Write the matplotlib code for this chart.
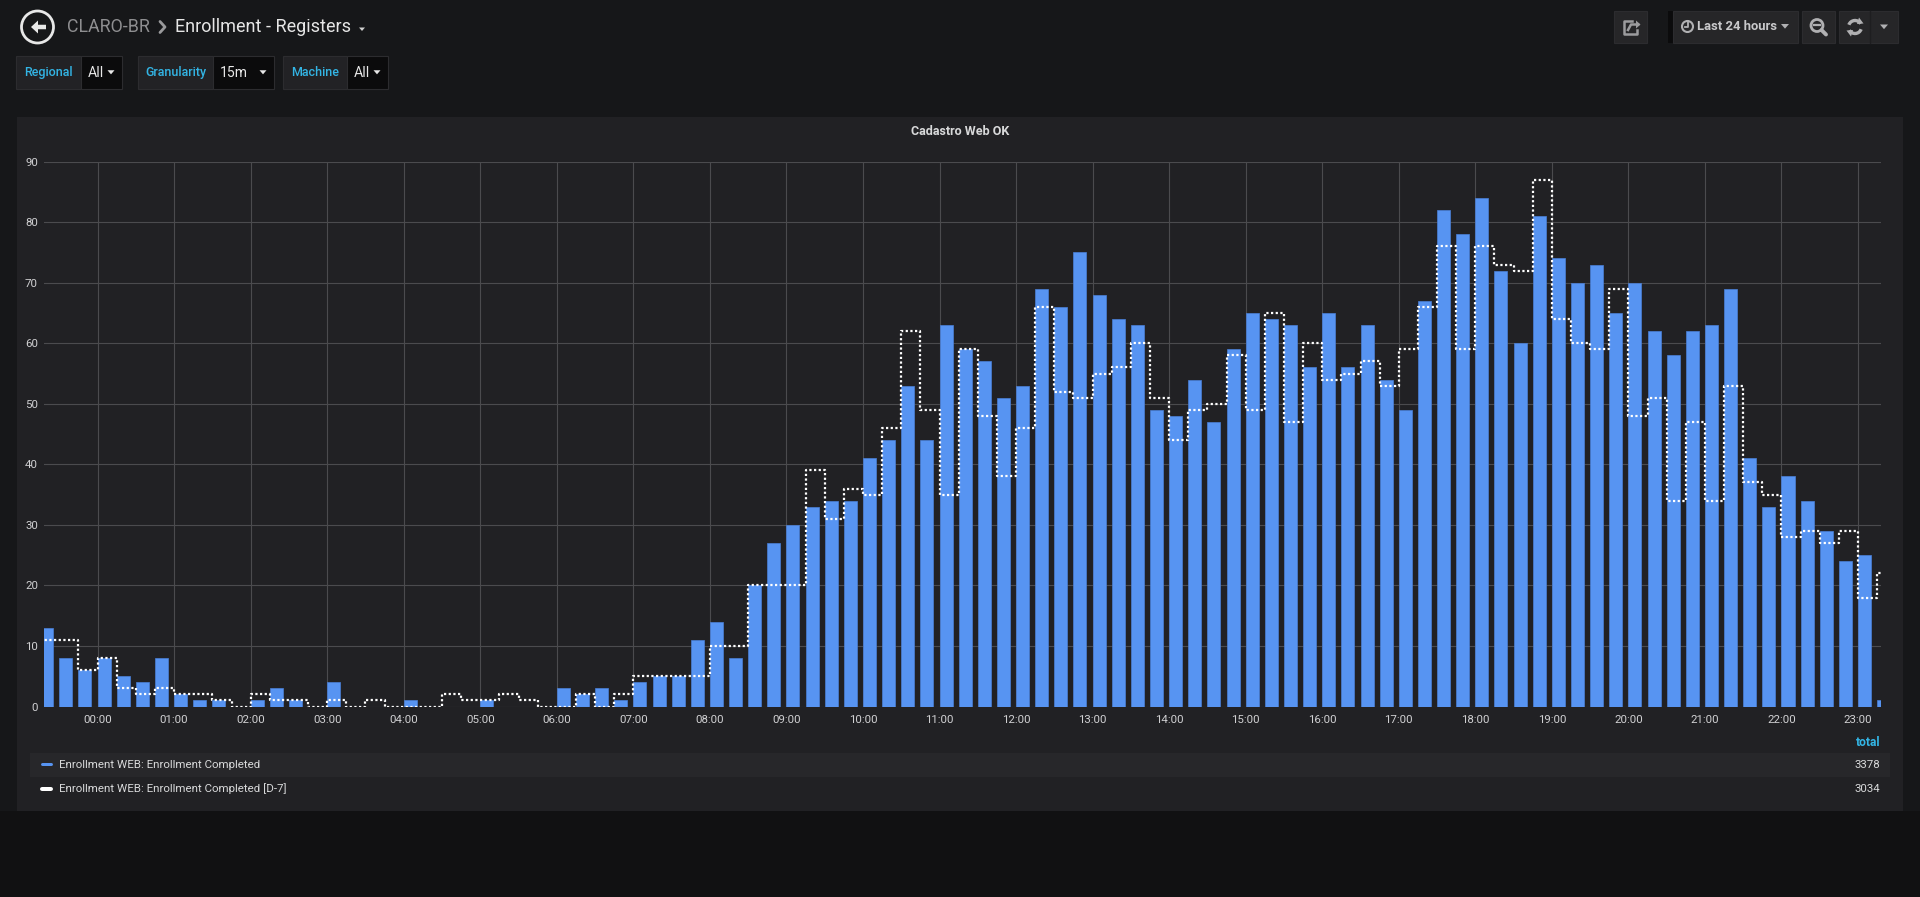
import numpy as np
import pandas as pd
import matplotlib
matplotlib.use('Agg')
import matplotlib.pyplot as plt
import matplotlib.dates as mdates
from matplotlib.patches import Rectangle, Circle, Polygon, FancyArrow, Arc

plt.rcParams['font.family'] = ['Roboto', 'DejaVu Sans']

# 15m buckets, first bucket starts 23:15 of the day before
first_slot = '2018-05-14 23:15'
view_start = '2018-05-14 23:18'
view_end = '2018-05-15 23:18'

completed = [13, 8, 6,
             8, 5, 4, 8,
             2, 1, 1, 0,
             1, 3, 1, 0,
             4, 0, 0, 0,
             1, 0, 0, 0,
             1, 0, 0, 0,
             3, 2, 3, 1,
             4, 5, 5, 11,
             14, 8, 20, 27,
             30, 33, 34, 34,
             41, 44, 53, 44,
             63, 59, 57, 51,
             53, 69, 66, 75,
             68, 64, 63, 49,
             48, 54, 47, 59,
             65, 64, 63, 56,
             65, 56, 63, 54,
             49, 67, 82, 78,
             84, 72, 60, 81,
             74, 70, 73, 65,
             70, 62, 58, 62,
             63, 69, 41, 33,
             38, 34, 29, 24,
             25, 1]

completed_d7 = [11, 11, 6,
                8, 3, 2, 3,
                2, 2, 1, 0,
                2, 1, 1, 0,
                1, 0, 1, 0,
                0, 0, 2, 1,
                1, 2, 1, 0,
                0, 2, 0, 2,
                5, 5, 5, 5,
                10, 10, 20, 20,
                20, 39, 31, 36,
                35, 46, 62, 49,
                35, 59, 48, 38,
                46, 66, 52, 51,
                55, 56, 60, 51,
                44, 49, 50, 58,
                49, 65, 47, 60,
                54, 55, 57, 53,
                59, 66, 76, 59,
                76, 73, 72, 87,
                64, 60, 59, 69,
                48, 51, 34, 47,
                34, 53, 37, 35,
                28, 29, 27, 29,
                18, 22]

series_names = ['Enrollment WEB: Enrollment Completed',
                'Enrollment WEB: Enrollment Completed [D-7]']
y_ticks = [0, 10, 20, 30, 40, 50, 60, 70, 80, 90]

variables = [('Regional', 'All'), ('Granularity', '15m'), ('Machine', 'All')]

BG = '#161719'
PANEL = '#212124'
TEXT = '#d8d9da'
BLUE = '#5794f2'
CYAN = '#33b5e5'

W, H = 1920, 897
fig = plt.figure(figsize=(W / 100, H / 100), dpi=100, facecolor=BG)

# pixel-space layer for the dashboard chrome
deco = fig.add_axes([0, 0, 1, 1], zorder=0)
deco.set_xlim(0, W)
deco.set_ylim(H, 0)
deco.axis('off')


def px(v):
    return v * 0.72


def caret(x, y, w, color):
    deco.add_patch(Polygon([(x - w / 2, y - w / 4), (x + w / 2, y - w / 4), (x, y + w / 3)],
                           closed=True, color=color, lw=0))


def button(x0, x1, y0=11, y1=43, color='#262628'):
    deco.add_patch(Rectangle((x0, y0), x1 - x0, y1 - y0, facecolor=color,
                             edgecolor='#2c2c2f', lw=0.8))


deco.add_patch(Rectangle((0, 811), W, H - 811, facecolor='#111112', lw=0))

# back button + breadcrumb
deco.add_patch(Circle((37.5, 27), 16, facecolor='none', edgecolor='#e8e8e8', lw=2))
deco.add_patch(FancyArrow(46, 27, -15, 0, width=4.5, head_width=13, head_length=7,
                          length_includes_head=True, color='#e8e8e8', lw=0))
deco.text(67, 27, 'CLARO-BR', color='#8e8e90', fontsize=px(17.8), va='center', ha='left')
deco.plot([160, 165, 160], [21.5, 27, 32.5], color='#9a9a9c', lw=2, solid_capstyle='round')
deco.text(175, 27, 'Enrollment - Registers', color='#e6e6e6', fontsize=px(18),
          va='center', ha='left')
caret(362, 29, 6, '#d0d0d0')

# template variables
var_boxes = [(16, 81, 122), (138, 213, 274), (283, 347, 388)]
for (label, value), (x0, xm, x1) in zip(variables, var_boxes):
    deco.add_patch(Rectangle((x0, 56), xm - x0, 33, facecolor='#222225',
                             edgecolor='#2c2c2f', lw=0.8))
    deco.add_patch(Rectangle((xm, 56), x1 - xm, 33, facecolor='#0b0b0c',
                             edgecolor='#2c2c2f', lw=0.8))
    deco.text((x0 + xm) / 2, 72.5, label, color=CYAN, fontsize=px(12.5),
              fontweight='medium', ha='center', va='center')
    deco.text(xm + 7, 73, value, color='#e8e8e8', fontsize=px(14), ha='left', va='center')
    caret(x1 - 11, 72, 7, '#e8e8e8')

# top right buttons
button(1614, 1647)
deco.plot([1632, 1624, 1624, 1637, 1637], [21, 21, 34, 34, 30], color='#9c9c9e', lw=1.8)
deco.plot([1628, 1631, 1638], [30, 24.5, 24.5], color='#9c9c9e', lw=1.8)
deco.add_patch(Polygon([(1636, 20.5), (1640.5, 24.5), (1636, 28.5)], closed=True,
                       color='#9c9c9e', lw=0))
deco.add_patch(Rectangle((1668, 11), 6, 32, facecolor='#0b0b0c', lw=0))
button(1673, 1798)
deco.add_patch(Circle((1687.5, 26.5), 5.5, facecolor='none', edgecolor='#b0b0b2', lw=1.5))
deco.plot([1687.5, 1687.5, 1685], [22.5, 27, 27], color='#b0b0b2', lw=1.3)
deco.text(1697, 27, 'Last 24 hours', color='#c8c8ca', fontsize=px(13),
          fontweight='bold', ha='left', va='center')
caret(1785, 26, 8, '#b0b0b2')
button(1802, 1835)
deco.add_patch(Circle((1817, 25.5), 6, facecolor='none', edgecolor='#b0b0b2', lw=2))
deco.plot([1821.5, 1826], [30, 34.5], color='#b0b0b2', lw=2.8, solid_capstyle='round')
deco.plot([1814, 1820], [25.5, 25.5], color='#b0b0b2', lw=1.6)
button(1839, 1898)
deco.plot([1870, 1870], [11, 43], color='#1e1e20', lw=1)
deco.add_patch(Arc((1855, 27), 13, 13, theta1=200, theta2=330, color='#b0b0b2', lw=2.4))
deco.add_patch(Arc((1855, 27), 13, 13, theta1=20, theta2=150, color='#b0b0b2', lw=2.4))
deco.add_patch(Polygon([(1859, 17.5), (1863.5, 23.5), (1857, 24)], closed=True, color='#b0b0b2', lw=0))
deco.add_patch(Polygon([(1851, 36.5), (1846.5, 30.5), (1853, 30)], closed=True, color='#b0b0b2', lw=0))
caret(1884, 26.5, 8, '#b0b0b2')

# panel
deco.add_patch(Rectangle((17, 117), 1903 - 17, 811 - 117, facecolor=PANEL, lw=0))
deco.text(960, 131.5, 'Cadastro Web OK', color=TEXT, fontsize=px(12.5),
          fontweight='bold', ha='center', va='center')

# legend table
deco.text(1880, 742, 'total', color=CYAN, fontsize=px(12), fontweight='bold',
          ha='right', va='center')
deco.add_patch(Rectangle((30, 753), 1890 - 30, 24, facecolor='#27272a', lw=0))
legend_colors = [BLUE, '#ffffff']
legend_widths = [3, 4]
totals = [sum(completed), sum(completed_d7)]
for i, (name, col, lw, tot) in enumerate(zip(series_names, legend_colors, legend_widths, totals)):
    yy = 764.5 + i * 24.5
    deco.plot([42, 51], [yy, yy], color=col, lw=px(lw), solid_capstyle='round')
    deco.text(59, yy, name, color=TEXT, fontsize=px(11.5), ha='left', va='center')
    deco.text(1880, yy, str(tot), color=TEXT, fontsize=px(11.5), ha='right', va='center')

# chart
x0, x1, ytop, ybot = 44, 1881, 161.6, 706.5
ax = fig.add_axes([x0 / W, 1 - ybot / H, (x1 - x0) / W, (ybot - ytop) / H], zorder=1)
ax.set_facecolor('none')

times = pd.date_range(first_slot, periods=len(completed), freq='15min')
slot = 15 / 1440
ax.bar(times, completed, width=slot * 0.68, align='edge', color=BLUE,
       edgecolor='#4a80d8', linewidth=0.5, zorder=2)
step_x = list(times) + [times[-1] + pd.Timedelta(minutes=15)]
step_y = completed_d7 + [completed_d7[-1]]
ax.step(step_x, step_y, where='post', color='#ffffff', lw=1.6,
        linestyle=(0, (1, 1.1)), zorder=3)

ax.set_xlim(pd.Timestamp(view_start), pd.Timestamp(view_end))
ax.set_ylim(0, 90)
ax.set_yticks(y_ticks)
ax.xaxis.set_major_locator(mdates.HourLocator())
ax.xaxis.set_major_formatter(mdates.DateFormatter('%H:%M'))
ax.grid(True, color='#4b4b4e', lw=0.8, zorder=0)
ax.set_axisbelow(True)
for s in ax.spines.values():
    s.set_visible(False)
ax.tick_params(length=0, colors='#d0d0d2', labelsize=px(11.5))
ax.tick_params(axis='x', pad=px(8))
ax.tick_params(axis='y', pad=px(6))

fig.savefig('out.png', dpi=100, facecolor=BG)
